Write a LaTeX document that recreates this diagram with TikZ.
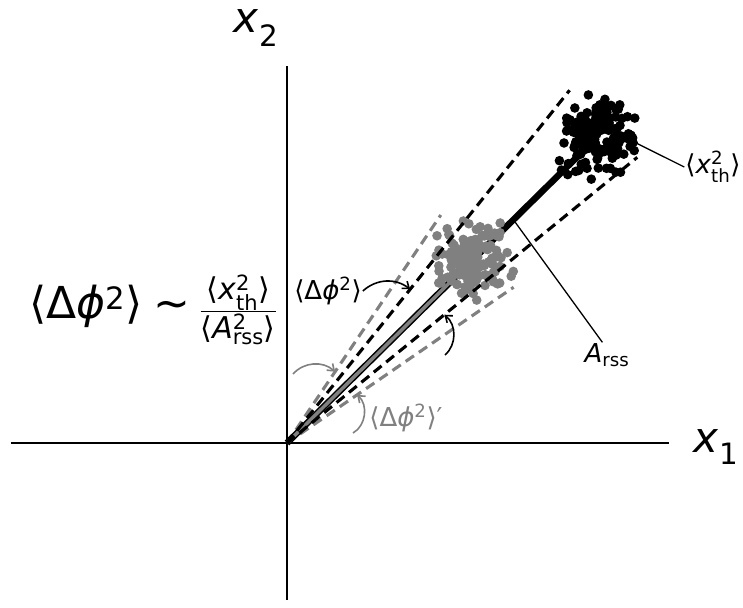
\documentclass[tikz,border=0pt]{standalone}
\usepackage{amsmath}
\usepackage{fontspec}
\setmainfont{DejaVu Sans}
\usepackage{tikz}
\usetikzlibrary{arrows.meta}
\definecolor{dotgray}{gray}{0.5}
\tikzset{
  every picture/.style={line join=round, >={Straight Barb[length=6pt,width=9pt]}},
  every node/.style={font=\fontsize{26}{30}\selectfont, inner sep=1pt},
  axis/.style={line width=2pt},
  ray/.style={line width=3.1pt, dash pattern=on 10pt off 6pt},
  pointer/.style={line width=1.3pt},
  bent/.style={line width=1.6pt, ->},
}

\begin{document}
\begin{tikzpicture}[x=1pt,y=1pt]
\useasboundingbox (-287,-164) rectangle (456,443);
\coordinate (o) at (0,0);
\coordinate (xl) at (-276,0);
\coordinate (xr) at (382,0);
\coordinate (yb) at (0,-157);
\coordinate (yt) at (0,377);
\draw[axis] (xl) -- (xr);
\draw[axis] (yb) -- (yt);
\node[font=\fontsize{42}{46}\selectfont] (xone) at (429,-4) {\textit{x}$_{\text{1}}$};
\node[font=\fontsize{42}{46}\selectfont] (xtwo) at (-31,415) {\textit{x}$_{\text{2}}$};
% wide (grey) wedge
\draw[ray,dotgray] (o) -- (56:275);
\draw[ray,dotgray] (o) -- (34.5:275);
% beams
\draw[line width=6.5pt] (o) -- (44.6:436);
\draw[dotgray,line width=3.5pt] (o) -- (44.6:259);
\pgfmathsetseed{7}
\foreach \i in {1,...,150}{
  \pgfmathsetmacro\px{186+17*(rand+rand+rand)}
  \pgfmathsetmacro\py{180+17*(rand+rand+rand)}
  \fill[dotgray] (\px,\py) circle (4.8);
}
% narrow (black) wedge
\draw[ray] (o) -- (51.3:452);
\draw[ray] (o) -- (39.2:452);
\foreach \i in {1,...,170}{
  \pgfmathsetmacro\px{310+18*(rand+rand+rand)}
  \pgfmathsetmacro\py{306+18*(rand+rand+rand)}
  \fill (\px,\py) circle (4.8);
}
% labels
\node (xth) at (426,276) {⟨\textit{x}$^{\text{2}}_{\text{th}}$⟩};
\node (arss) at (320,88) {\textit{A}$_{\text{rss}}$};
\node (dphi) at (41,152) {⟨Δ\textit{ϕ}$^{\text{2}}$⟩};
\node[dotgray] (dphip) at (119,25) {⟨Δ\textit{ϕ}$^{\text{2}}$⟩′};
\node[font=\fontsize{44}{50}\selectfont] (law) at (-134,133) {⟨Δ\textit{ϕ}$^{\text{2}}$⟩\hspace{0.25em}∼\hspace{0.2em}%
  $\frac{\text{\fontsize{30}{34}\selectfont ⟨\textit{x}$^{\text{2}}_{\text{th}}$⟩}}
        {\text{\fontsize{30}{34}\selectfont ⟨\textit{A}$^{\text{2}}_{\text{rss}}$⟩}}$};
\coordinate (cloud) at (333,308);
\coordinate (onbeam) at (44.6:318);
\draw[pointer] (cloud) -- (xth.west);
\draw[pointer] (onbeam) -- (arss.110);
% angle arrows
\coordinate (ta) at (51.3:197);
\coordinate (sb) at (158,88);
\coordinate (tb) at (39.2:203);
\coordinate (sc) at (6,69);
\coordinate (tc) at (56:86);
\coordinate (sd) at (66,10);
\coordinate (td) at (34.5:85);
\draw[bent] (dphi.east) to[bend left=40] (ta);
\draw[bent] (sb) to[bend right=50] (tb);
\draw[bent,dotgray] (sc) to[bend left=45] (tc);
\draw[bent,dotgray] (sd) to[bend right=55] (td);
\end{tikzpicture}
\end{document}
